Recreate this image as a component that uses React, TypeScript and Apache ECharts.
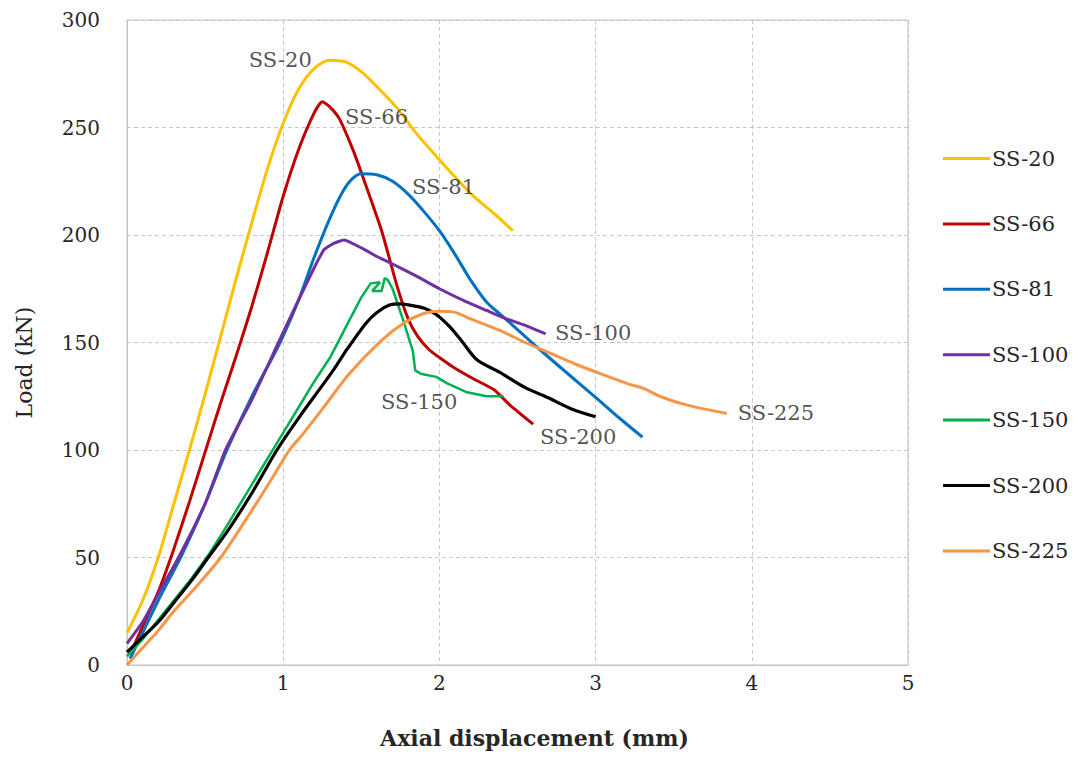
import React, { useEffect, useRef } from "react";
import * as echarts from "echarts";

const seriesNames = ["SS-20", "SS-66", "SS-81", "SS-100", "SS-150", "SS-200", "SS-225"];
const seriesColors = ["#FFC000", "#C00000", "#0070C0", "#7030A0", "#00B050", "#000000", "#F79646"];

const ss20 = [[0,15],[0.1,30],[0.2,50],[0.3,75],[0.4,100],[0.5,126],[0.6,153],[0.7,180],[0.8,206],[0.9,231],[1.0,252],[1.1,268],[1.2,277.5],[1.3,281.3],[1.4,280.5],[1.5,276],[1.6,269],[1.73,259],[1.85,247.5],[2.0,235],[2.1,227],[2.22,218],[2.35,210],[2.47,202]];
const ss66 = [[0.02,5],[0.1,18],[0.2,34],[0.3,54],[0.4,76],[0.5,99],[0.6,122],[0.7,144],[0.8,167],[0.9,192],[1.0,218],[1.1,240],[1.2,257],[1.25,262],[1.3,259.5],[1.36,254],[1.45,239],[1.51,227],[1.63,202],[1.73,176],[1.8,161],[1.86,153],[1.93,147],[2.0,143],[2.1,138],[2.22,133],[2.35,128],[2.45,121],[2.6,112]];
const ss81 = [[0.02,3],[0.1,15],[0.2,30],[0.35,51],[0.5,75],[0.64,100],[0.8,125],[0.98,150],[1.1,170],[1.2,190],[1.3,208],[1.38,220],[1.44,226],[1.5,228.5],[1.6,228],[1.7,225],[1.8,219],[1.9,211],[2.0,202],[2.1,191],[2.2,179],[2.3,169],[2.4,162.5],[2.5,156],[2.67,145],[2.83,135],[3.0,124.5],[3.15,115],[3.3,106]];
const ss100 = [[0,10],[0.1,20],[0.2,33],[0.33,50],[0.5,75],[0.63,100],[0.79,122],[0.97,150],[1.1,170],[1.2,185],[1.26,193],[1.32,196],[1.39,197.7],[1.5,194],[1.6,190],[1.7,186.5],[1.85,181],[2.0,175],[2.17,169],[2.3,165],[2.43,161],[2.55,158],[2.68,154]];
const ss150 = [[0,4],[0.1,12],[0.2,21],[0.3,30],[0.41,40],[0.52,51],[0.65,66],[0.8,84],[0.95,102],[1.1,120],[1.2,132],[1.3,143],[1.4,157],[1.5,171],[1.56,177.5],[1.62,178],[1.57,174],[1.63,174],[1.65,180],[1.67,179],[1.7,175],[1.77,160],[1.83,146],[1.845,137],[1.88,135.5],[1.98,134],[2.05,131],[2.17,127],[2.3,125],[2.41,125]];
const ss200 = [[0,6],[0.1,13],[0.2,20],[0.3,29],[0.41,39],[0.52,50],[0.65,63],[0.8,80],[0.96,100],[1.11,116],[1.2,125],[1.32,137],[1.41,147],[1.53,159],[1.6,164],[1.68,167.4],[1.75,168],[1.81,167.4],[1.9,166],[1.98,163],[2.07,157],[2.15,150],[2.24,142],[2.39,136],[2.55,129],[2.69,124.5],[2.85,119],[3.0,115.5]];
const ss225 = [[0,0],[0.1,8],[0.2,16],[0.3,25],[0.45,37],[0.6,50],[0.8,72],[0.93,87],[1.04,100],[1.11,106],[1.25,119],[1.43,136],[1.63,151],[1.77,159],[1.9,163.5],[2.0,164.5],[2.1,164],[2.2,161],[2.39,155.5],[2.55,150],[2.71,145],[2.87,140],[3.03,135.5],[3.2,131],[3.31,128.5],[3.41,125],[3.58,121],[3.84,117]];

const seriesData = [ss20, ss66, ss81, ss100, ss150, ss200, ss225];
const seriesSmooth = [0.3, 0.2, 0.3, 0.15, false, 0.3, 0.3];
const seriesWidth = [3, 3, 3, 3, 2.5, 3.2, 3];

// curve labels: anchor at left-middle of text, in data units
const labelNames = ["SS-20", "SS-66", "SS-81", "SS-100", "SS-150", "SS-200", "SS-225"];
const labelX = [0.78, 1.396, 1.825, 2.74, 1.626, 2.644, 3.91];
const labelY = [281.4, 254.9, 222.3, 154.4, 122.3, 106, 117.2];

const xTicks = { min: 0, max: 5, interval: 1 };
const yTicks = { min: 0, max: 300, interval: 50 };

const FONT = "DejaVu Serif";
const TEXT = "#262626";

export default function App() {
  const ref = useRef<HTMLDivElement>(null);
  useEffect(() => {
    if (!ref.current) return;
    const chart = echarts.init(ref.current, null, { renderer: "svg" });
    const lines = seriesNames.map((n, i) => ({
      name: n,
      type: "line",
      data: seriesData[i],
      smooth: seriesSmooth[i],
      showSymbol: false,
      symbol: "none",
      lineStyle: { color: seriesColors[i], width: seriesWidth[i] },
      itemStyle: { color: seriesColors[i] },
      z: 3,
    }));
    const labels = {
      name: "curve-labels",
      type: "scatter",
      symbolSize: 0,
      silent: true,
      z: 5,
      data: labelNames.map((n, i) => ({ name: n, value: [labelX[i], labelY[i]] })),
      label: {
        show: true,
        position: "right",
        distance: 0,
        formatter: (p: any) => p.name,
        fontFamily: FONT,
        fontSize: 21,
        color: TEXT,
      },
    };
    chart.setOption({
      animation: false,
      backgroundColor: "#ffffff",
      grid: { left: 127, right: 170, top: 20, bottom: 92, show: true, borderColor: "#c4c4c4", borderWidth: 1, containLabel: false },
      legend: {
        data: seriesNames,
        orient: "vertical",
        left: 943,
        top: 148,
        padding: 0,
        icon: "rect",
        itemWidth: 47,
        itemHeight: 3,
        itemGap: 44.4,
        textStyle: { fontFamily: FONT, fontSize: 21, color: TEXT, padding: [0, 0, 0, -3] },
      },
      xAxis: {
        type: "value",
        min: xTicks.min,
        max: xTicks.max,
        interval: xTicks.interval,
        name: "Axial displacement (mm)",
        nameLocation: "middle",
        nameGap: 62,
        nameTextStyle: { fontFamily: FONT, fontSize: 22, fontWeight: "bold", color: TEXT, padding: [0, 0, 0, 34] },
        axisLine: { show: true, lineStyle: { color: "#c4c4c4" } },
        axisTick: { show: false },
        axisLabel: { fontFamily: FONT, fontSize: 20, color: TEXT, margin: 8 },
        splitLine: { show: true, lineStyle: { color: "#c8c8c8", type: [4, 3], width: 1 } },
      },
      yAxis: {
        type: "value",
        min: yTicks.min,
        max: yTicks.max,
        interval: yTicks.interval,
        name: "Load (kN)",
        nameLocation: "middle",
        nameGap: 92,
        nameTextStyle: { fontFamily: FONT, fontSize: 22, color: TEXT, padding: [0, 40, 0, 0] },
        axisLine: { show: true, lineStyle: { color: "#c4c4c4" } },
        axisTick: { show: false },
        axisLabel: { fontFamily: FONT, fontSize: 20, color: TEXT, margin: 27 },
        splitLine: { show: true, lineStyle: { color: "#c8c8c8", type: [4, 3], width: 1 } },
      },
      series: [...lines, labels],
    });
    return () => chart.dispose();
  }, []);
  return <div ref={ref} style={{ position: "absolute", left: 0, top: 0, width: 1078, height: 757 }} />;
}
